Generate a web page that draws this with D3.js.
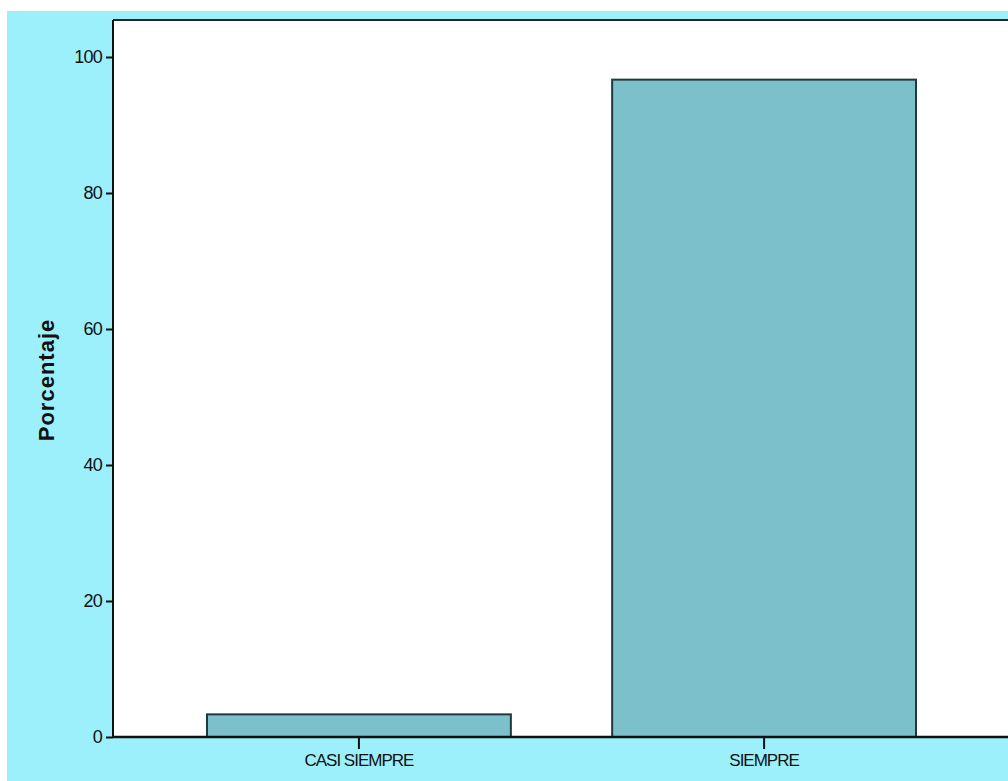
<!DOCTYPE html>
<html><head><meta charset="utf-8">
<script src="https://cdn.jsdelivr.net/npm/d3@7"></script>
<style>body{margin:0;background:#fff;} svg{display:block;}</style>
</head><body>
<script>
const categories = ["CASI SIEMPRE", "SIEMPRE"];
const values = [3.33, 96.67];
const yTicks = [0, 20, 40, 60, 80, 100];

(function () {
const W = 1008, H = 781;
const svg = d3.select("body").append("svg").attr("width", W).attr("height", H);
svg.append("rect").attr("x", 7).attr("y", 11).attr("width", W - 7).attr("height", H - 11).attr("fill", "#9cf0fc");

const mLeft = 113, mTop = 20, mBottom = 737, mRight = 1010;
const x = d3.scaleBand().domain(categories).range([mLeft, mRight]).paddingInner(0.25).paddingOuter(0.232);
const y = d3.scaleLinear().domain([0, 100]).range([mBottom, 57]);

svg.append("rect").attr("x", mLeft).attr("y", mTop).attr("width", mRight - mLeft).attr("height", mBottom - mTop).attr("fill", "#fff");

svg.selectAll(".bar").data(values).enter().append("rect")
  .attr("x", (d, i) => x(categories[i]))
  .attr("y", d => y(d))
  .attr("width", x.bandwidth())
  .attr("height", d => y(0) - y(d))
  .attr("fill", "#7bc0cb").attr("stroke", "#1e3a3e").attr("stroke-width", 2);

svg.append("line").attr("x1", mLeft).attr("x2", mRight).attr("y1", mTop).attr("y2", mTop).attr("stroke", "#1a2a2c").attr("stroke-width", 2);

const yAxis = svg.append("g").attr("transform", `translate(${mLeft},0)`)
  .call(d3.axisLeft(y).tickValues(yTicks).tickSize(7).tickPadding(4).tickFormat(d3.format("d")));
yAxis.select(".domain").remove();
yAxis.append("line").attr("x1", 0).attr("x2", 0).attr("y1", mTop).attr("y2", mBottom).attr("stroke", "#111").attr("stroke-width", 2);
yAxis.selectAll(".tick line").attr("stroke", "#111").attr("stroke-width", 2);
yAxis.selectAll(".tick text").attr("font-family", "Liberation Sans, Arial, sans-serif").attr("font-size", 18).attr("fill", "#111").attr("letter-spacing", "-0.8px");

const xAxis = svg.append("g").attr("transform", `translate(0,${mBottom})`)
  .call(d3.axisBottom(x).tickSize(12).tickPadding(5));
xAxis.select(".domain").remove();
xAxis.append("line").attr("x1", mLeft).attr("x2", mRight).attr("y1", 0).attr("y2", 0).attr("stroke", "#111").attr("stroke-width", 2.5);
xAxis.selectAll(".tick line").attr("stroke", "#111").attr("stroke-width", 2);
xAxis.selectAll(".tick text").attr("font-family", "Liberation Sans, Arial, sans-serif").attr("font-size", 17).attr("fill", "#111").attr("letter-spacing", "-1px");

svg.append("text").attr("transform", "translate(54,380) rotate(-90)")
  .attr("text-anchor", "middle").attr("font-family", "Liberation Sans, Arial, sans-serif")
  .attr("font-weight", "bold").attr("font-size", 22).attr("letter-spacing", "1px").attr("fill", "#111").text("Porcentaje");
})();
</script>
</body></html>
